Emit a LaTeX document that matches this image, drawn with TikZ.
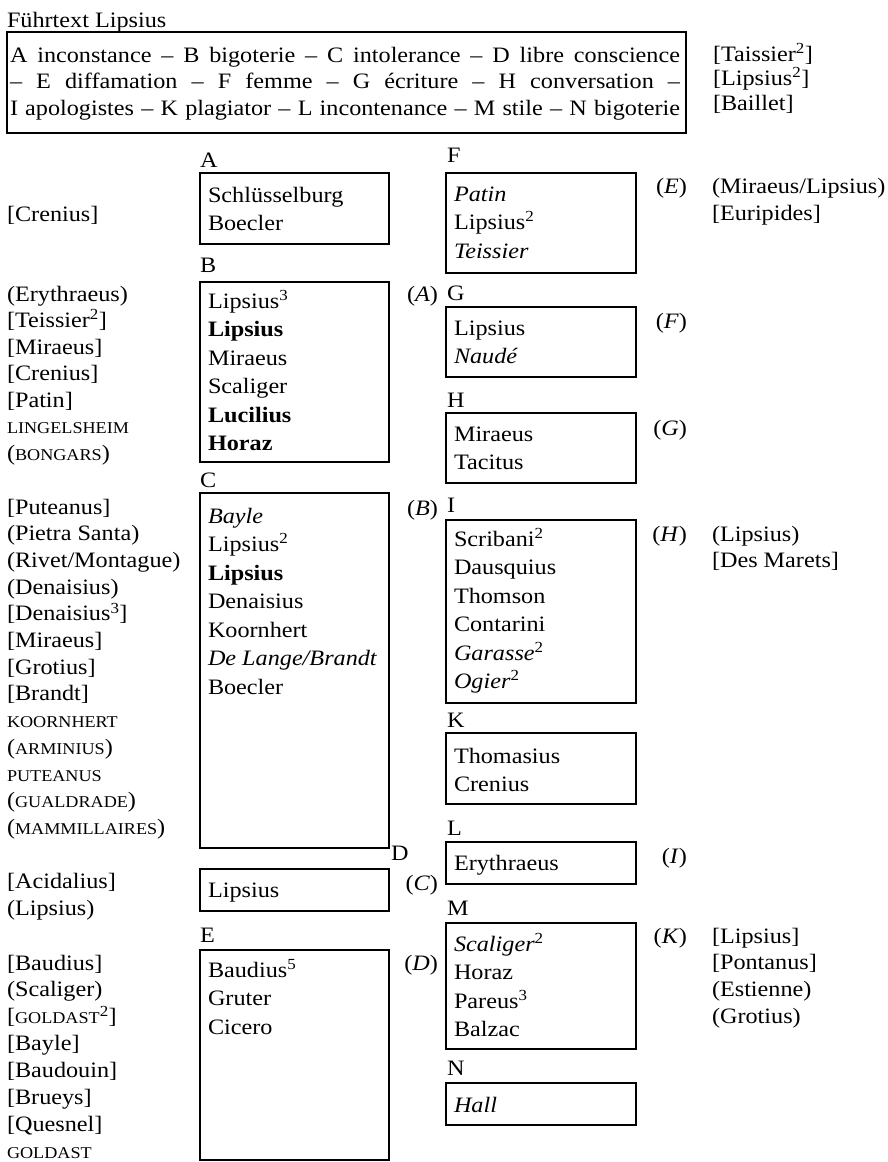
\documentclass[tikz,border=0pt]{standalone}
\usepackage{fontspec}
\setmainfont[FakeStretch=1.1]{Liberation Serif}
\newcommand\boxfont{\fontsize{22}{28.5}\selectfont}
\newcommand\sidefont{\fontsize{22}{26.7}\selectfont}
\newcommand\topfont{\fontsize{22}{26.5}\selectfont}
\newcommand\smc[1]{{\fontsize{16.5}{16}\selectfont #1}}
\newcommand\su[1]{\textsuperscript{#1}}
\newcommand\rows[1]{\vtop{\halign{##\hfil\cr#1\crcr}}}
\begin{document}
\begin{tikzpicture}[x=1pt,y=-1pt,
  every node/.style={inner sep=0pt, outer sep=0pt},
  box/.style={draw, line width=1.7pt, anchor=north west},
  entry/.style={anchor=base west, font=\boxfont},
  side/.style={anchor=base west, font=\sidefont},
  letter/.style={anchor=base west, font=\boxfont},
  refmark/.style={anchor=base east, font=\boxfont}]
\useasboundingbox (0,0) rectangle (887,1162);
% title and top box
\node[side] (title) at (7,27) {Führtext Lipsius};
\node[box, minimum width=679, minimum height=101] (topbox) at (7,32) {};
\node[anchor=base west, font=\topfont] (toptext) at (10,62)
  {\rows{\makebox[670pt][s]{A inconstance -- B bigoterie -- C intolerance -- D libre conscience}\cr
   \makebox[670pt][s]{-- E diffamation -- F femme -- G écriture -- H conversation --}\cr
   \makebox[670pt][s]{I apologistes -- K plagiator -- L incontenance -- M stile -- N bigoterie}}};
\node[anchor=base west, font=\fontsize{22}{24.5}\selectfont] (topright) at (713,61)
  {\rows{[Taissier\su{2}]\cr[Lipsius\su{2}]\cr[Baillet]}};
% column 1 boxes
\node[box, minimum width=189, minimum height=71] (bA) at (200,173) {};
\node[box, minimum width=189, minimum height=180] (bB) at (200,282) {};
\node[box, minimum width=189, minimum height=355] (bC) at (200,493) {};
\node[box, minimum width=189, minimum height=42] (bD) at (200,869) {};
\node[box, minimum width=189, minimum height=210] (bE) at (200,950) {};
% column 2 boxes
\node[box, minimum width=190, minimum height=100] (bF) at (446,173) {};
\node[box, minimum width=190, minimum height=70] (bG) at (446,307) {};
\node[box, minimum width=190, minimum height=70] (bH) at (446,413) {};
\node[box, minimum width=190, minimum height=183] (bI) at (446,520) {};
\node[box, minimum width=190, minimum height=71] (bK) at (446,733) {};
\node[box, minimum width=190, minimum height=42] (bL) at (446,842) {};
\node[box, minimum width=190, minimum height=126] (bM) at (446,923) {};
\node[box, minimum width=190, minimum height=42] (bN) at (446,1083) {};
% letters
\node[letter] (lA) at (200,167) {A};
\node[letter] (lB) at (200,272) {B};
\node[letter] (lC) at (200,487) {C};
\node[letter] (lD) at (391,860) {D};
\node[letter] (lE) at (200,942) {E};
\node[letter] (lF) at (447,162) {F};
\node[letter] (lG) at (447,300) {G};
\node[letter] (lH) at (447,407) {H};
\node[letter] (lI) at (447,512) {I};
\node[letter] (lK) at (447,727) {K};
\node[letter] (lL) at (447,835) {L};
\node[letter] (lM) at (447,915) {M};
\node[letter] (lN) at (447,1075) {N};
% box entries
\node[entry] (tA) at (208,202) {\rows{Schlüsselburg\cr Boecler}};
\node[entry] (tB) at (208,308) {\rows{Lipsius\su{3}\cr\textbf{Lipsius}\cr Miraeus\cr Scaliger\cr\textbf{Lucilius}\cr\textbf{Horaz}}};
\node[entry] (tC) at (208,523) {\rows{\textit{Bayle}\cr Lipsius\su{2}\cr\textbf{Lipsius}\cr Denaisius\cr Koornhert\cr\textit{De Lange/Brandt}\cr Boecler}};
\node[entry] (tD) at (208,897) {Lipsius};
\node[entry] (tE) at (208,977) {\rows{Baudius\su{5}\cr Gruter\cr Cicero}};
\node[entry] (tF) at (454,201) {\rows{\textit{Patin}\cr Lipsius\su{2}\cr\textit{Teissier}}};
\node[entry] (tG) at (454,335) {\rows{Lipsius\cr\textit{Naudé}}};
\node[entry] (tH) at (454,441) {\rows{Miraeus\cr Tacitus}};
\node[entry] (tI) at (454,546) {\rows{Scribani\su{2}\cr Dausquius\cr Thomson\cr Contarini\cr\textit{Garasse}\su{2}\cr\textit{Ogier}\su{2}}};
\node[entry] (tK) at (454,763) {\rows{Thomasius\cr Crenius}};
\node[entry] (tL) at (454,870) {Erythraeus};
\node[entry] (tM) at (454,951) {\rows{\textit{Scaliger}\su{2}\cr Horaz\cr Pareus\su{3}\cr Balzac}};
\node[entry] (tN) at (454,1112) {\textit{Hall}};
% italic references
\node[refmark] (rA) at (438,301) {(\textit{A})};
\node[refmark] (rB) at (438,515) {(\textit{B})};
\node[refmark] (rC) at (438,890) {(\textit{C})};
\node[refmark] (rD) at (438,970) {(\textit{D})};
\node[refmark] (rE) at (687,193) {(\textit{E})};
\node[refmark] (rF) at (687,328) {(\textit{F})};
\node[refmark] (rG) at (687,435) {(\textit{G})};
\node[refmark] (rH) at (687,541) {(\textit{H})};
\node[refmark] (rI) at (687,863) {(\textit{I})};
\node[refmark] (rK) at (687,943) {(\textit{K})};
% right column
\node[side, font=\fontsize{22}{27}\selectfont] (sE) at (712,193) {\rows{(Miraeus/Lipsius)\cr[Euripides]}};
\node[side, font=\fontsize{22}{26}\selectfont] (sH) at (712,541) {\rows{(Lipsius)\cr[Des Marets]}};
\node[side] (sK) at (712,943) {\rows{[Lipsius]\cr[Pontanus]\cr(Estienne)\cr(Grotius)}};
% left column
\node[side] (sA) at (7,221) {[Crenius]};
\node[side, font=\fontsize{22}{26.5}\selectfont] (sB) at (7,301)
  {\rows{(Erythraeus)\cr[Teissier\su{2}]\cr[Miraeus]\cr[Crenius]\cr[Patin]\cr\smc{LINGELSHEIM}\cr(\smc{BONGARS})}};
\node[side] (sC) at (7,514)
  {\rows{[Puteanus]\cr(Pietra Santa)\cr(Rivet/Montague)\cr(Denaisius)\cr[Denaisius\su{3}]\cr[Miraeus]\cr[Grotius]\cr[Brandt]\cr\smc{KOORNHERT}\cr(\smc{ARMINIUS})\cr\smc{PUTEANUS}\cr(\smc{GUALDRADE})\cr(\smc{MAMMILLAIRES})}};
\node[side, font=\fontsize{22}{27}\selectfont] (sD) at (7,888) {\rows{[Acidalius]\cr(Lipsius)}};
\node[side, font=\fontsize{22}{26.9}\selectfont] (sEE) at (7,970)
  {\rows{[Baudius]\cr(Scaliger)\cr[\smc{GOLDAST}\su{2}]\cr[Bayle]\cr[Baudouin]\cr[Brueys]\cr[Quesnel]\cr\smc{GOLDAST}}};
\end{tikzpicture}
\end{document}
